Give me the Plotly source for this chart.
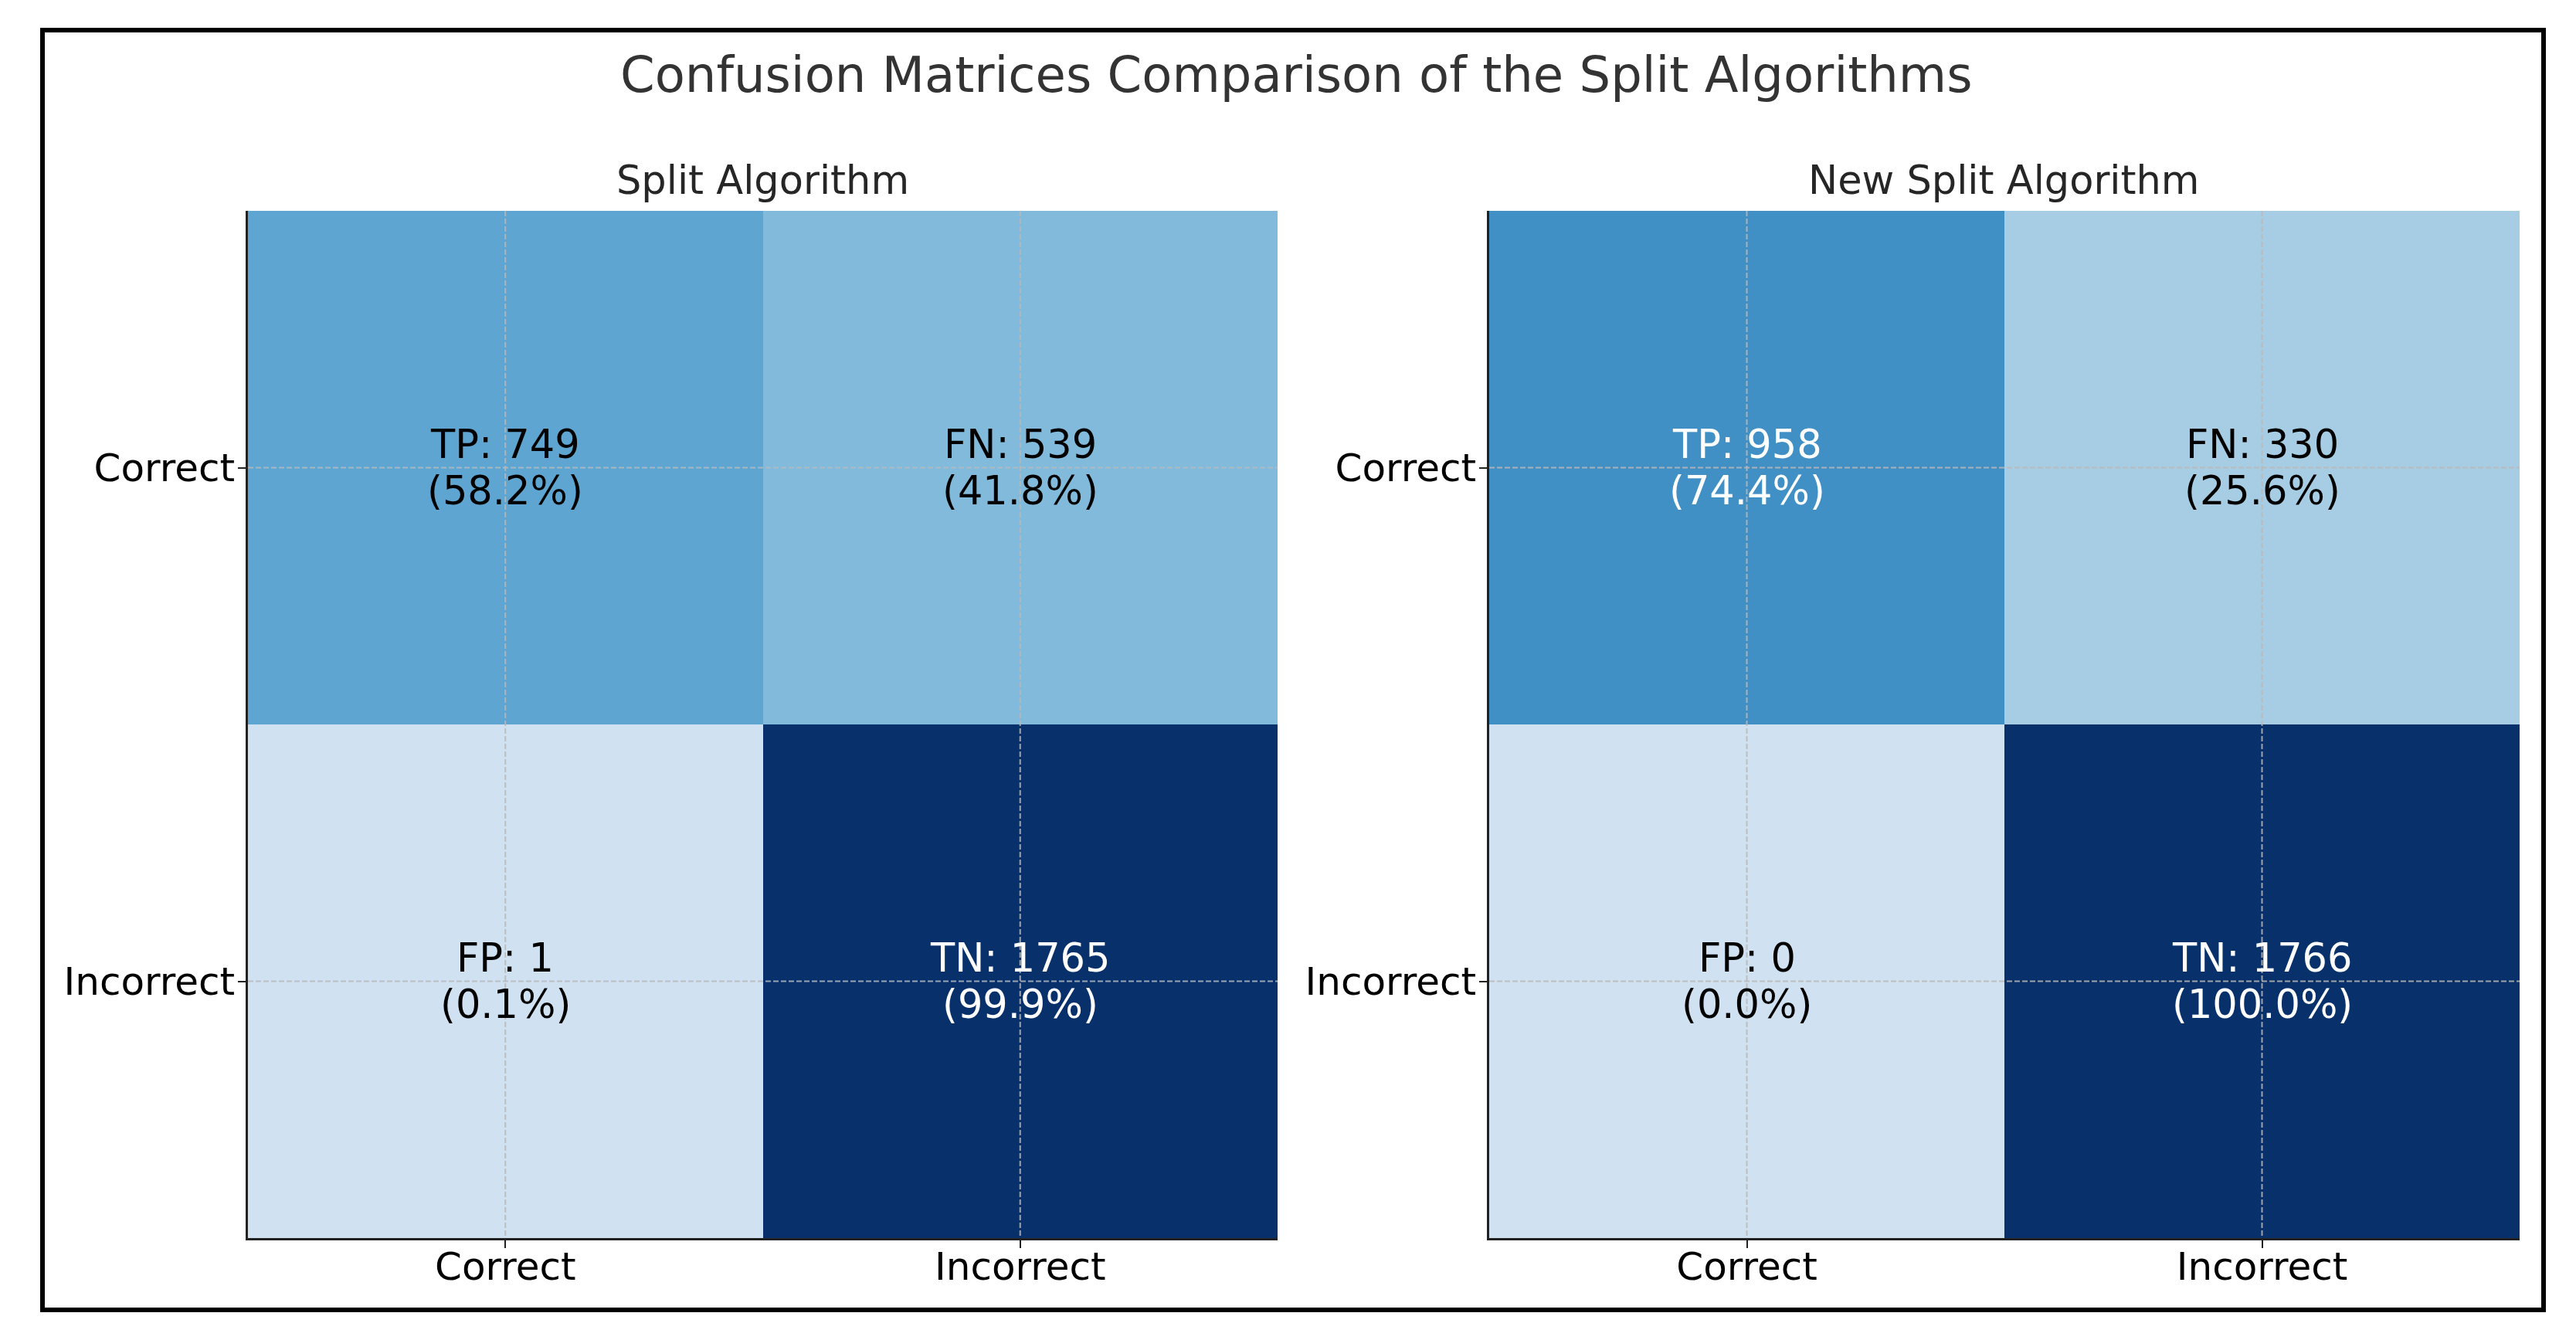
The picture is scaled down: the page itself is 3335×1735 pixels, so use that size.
import plotly.graph_objects as go

# ---------------- data ----------------
categories = ["Correct", "Incorrect"]
panel_titles = ["Split Algorithm", "New Split Algorithm"]
cell_codes = [["TP", "FN"], ["FP", "TN"]]
split_counts = [[749, 539], [1, 1765]]
split_pct = [[58.2, 41.8], [0.1, 99.9]]
new_counts = [[958, 330], [0, 1766]]
new_pct = [[74.4, 25.6], [0.0, 100.0]]
main_title = "Confusion Matrices Comparison of the Split Algorithms"

# ---------------- style ----------------
W, H = 3335, 1735
FONT = "DejaVu Sans"
blues = ["#f7fbff", "#deebf7", "#c6dbef", "#9ecae1", "#6baed6",
         "#4292c6", "#2171b5", "#08519c", "#08306b"]
colorscale = [[i / (len(blues) - 1), c] for i, c in enumerate(blues)]
DX, DY = -7, -7  # small global offset


def px_x(p):
    return (p + DX) / W


def px_y(p):
    return 1 - (p + DY) / H


panels = [
    dict(counts=split_counts, pct=split_pct, title=panel_titles[0],
         xd=[px_x(320), px_x(1653)]),
    dict(counts=new_counts, pct=new_pct, title=panel_titles[1],
         xd=[px_x(1927), px_x(3261)]),
]
ydom = [px_y(1602), px_y(272)]

fig = go.Figure()
idx = list(range(len(categories)))

for k, p in enumerate(panels):
    xa = "x" if k == 0 else f"x{k+1}"
    ya = "y" if k == 0 else f"y{k+1}"
    zmax = max(max(r) for r in p["counts"])
    fig.add_trace(go.Heatmap(
        z=p["counts"], x=idx, y=idx, colorscale=colorscale,
        zmin=-zmax / 4, zmax=zmax, showscale=False, hoverinfo="skip",
        xaxis=xa, yaxis=ya))

    axkey = "" if k == 0 else str(k + 1)
    common = dict(tickvals=idx, ticktext=categories, ticks="outside",
                  ticklen=10, tickwidth=2, tickcolor="#222",
                  showline=True, linecolor="#222", linewidth=3,
                  showgrid=False, zeroline=False, mirror=False,
                  tickfont=dict(family=FONT, size=50, color="black"))
    fig.layout["xaxis" + axkey] = dict(domain=p["xd"], range=[-0.5, 1.5],
                                       anchor=ya, ticklabelstandoff=-19, **common)
    fig.layout["yaxis" + axkey] = dict(domain=ydom, range=[1.5, -0.5],
                                       anchor=xa, ticklabelstandoff=-6, **common)

    # dashed grid lines drawn above the cells
    for i in idx:
        fig.add_shape(type="line", xref=xa, yref=ya, x0=i, x1=i, y0=-0.5, y1=1.5,
                      layer="above",
                      line=dict(color="rgba(185,185,185,0.85)", width=2, dash="7px,3px"))
        fig.add_shape(type="line", xref=xa, yref=ya, x0=-0.5, x1=1.5, y0=i, y1=i,
                      layer="above",
                      line=dict(color="rgba(185,185,185,0.85)", width=2, dash="7px,3px"))

    # cell labels (two lines, matplotlib-like spacing)
    for r in idx:
        for c in idx:
            v = p["counts"][r][c]
            col = "white" if v > zmax / 2 else "black"
            lines = [f"{cell_codes[r][c]}: {v}", f"({p['pct'][r][c]:.1f}%)"]
            for j, t in enumerate(lines):
                fig.add_annotation(
                    xref=xa, yref=ya, x=c, y=r, showarrow=False,
                    xanchor="center", yanchor="middle",
                    yshift=30 - 60 * j, text=t,
                    font=dict(family=FONT, size=51, color=col))

    # panel title
    fig.add_annotation(xref="paper", yref="paper",
                       x=(p["xd"][0] + p["xd"][1]) / 2, y=px_y(232),
                       xanchor="center", yanchor="middle", showarrow=False,
                       text=p["title"],
                       font=dict(family=FONT, size=51, color="#262626"))

# main title
fig.add_annotation(xref="paper", yref="paper", x=px_x(1677), y=px_y(96),
                   xanchor="center", yanchor="middle", showarrow=False,
                   text=main_title,
                   font=dict(family=FONT, size=64, color="#333333"))

# outer frame
fig.add_shape(type="rect", xref="paper", yref="paper",
              x0=px_x(54), x1=px_x(3292), y0=px_y(1695), y1=px_y(38),
              line=dict(color="black", width=6), layer="above")

fig.update_layout(width=W, height=H, margin=dict(l=0, r=0, t=0, b=0),
                  paper_bgcolor="white", plot_bgcolor="white",
                  showlegend=False)

fig.write_html("out.html")
